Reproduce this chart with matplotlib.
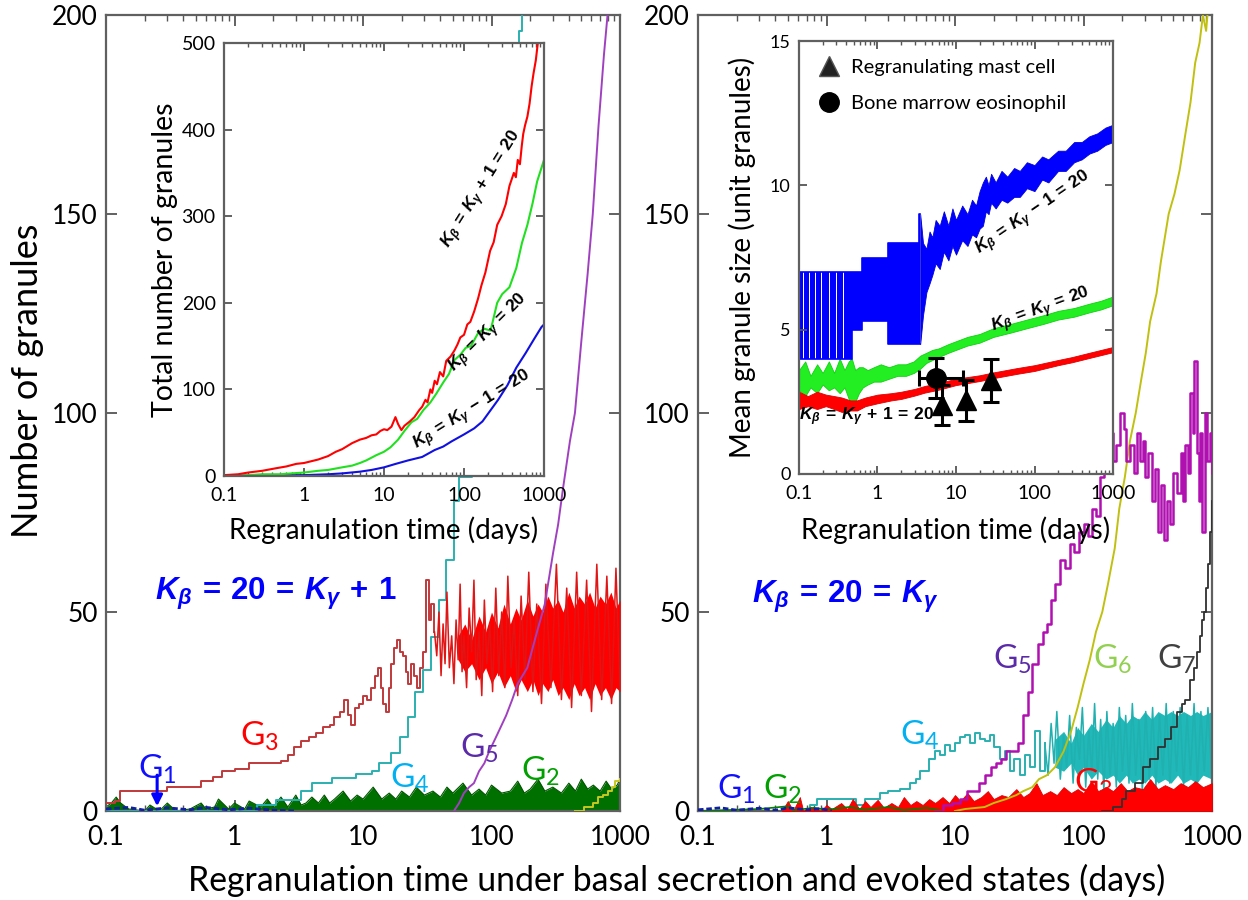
import numpy as np
import matplotlib
matplotlib.use('Agg')
import matplotlib.pyplot as plt
from matplotlib.lines import Line2D

plt.rcParams['font.family'] = ['Lato', 'DejaVu Sans']
plt.rcParams['mathtext.fontset'] = 'custom'
plt.rcParams['mathtext.it'] = 'Liberation Sans:italic:bold'
plt.rcParams['mathtext.bf'] = 'Liberation Sans:bold'
plt.rcParams['mathtext.rm'] = 'Liberation Sans:bold'
plt.rcParams['mathtext.sf'] = 'Liberation Sans:bold'

# ------------------------------------------------------------------ data
x_ticks = [0.1, 1, 10, 100, 1000]
x_ticklabels = ['0.1', '1', '10', '100', '1000']
main_yticks = [0, 50, 100, 150, 200]
insetL_yticks = [0, 100, 200, 300, 400, 500]
insetR_yticks = [0, 5, 10, 15]

# ---- left main panel  (K_beta = 20 = K_gamma + 1), (days, granules)
g1L = [(0.1, 0.5), (0.15, 0.9), (0.2, 0.2), (0.3, 0.8), (0.45, 0.3), (0.6, 0.9),
       (0.9, 0.3), (1.3, 0.7), (2, 0.2), (3, 0)]
g2L = [(0.1, 1), (0.11, 2), (0.12, 3.5), (0.13, 2), (0.15, 0.5), (0.2, 0), (0.22, 1.5),
       (0.26, 0), (0.3, 2), (0.35, 0), (0.45, 0.5), (0.55, 2), (0.6, 0.5), (0.7, 1),
       (0.75, 3), (0.9, 0.5), (1.0, 2), (1.2, 0.5), (1.3, 2.5), (1.6, 1), (1.8, 3),
       (2.0, 1), (2.3, 3.5), (2.6, 1), (3.0, 4), (3.3, 1.5), (3.6, 2), (4.0, 3.5),
       (4.5, 2), (5.0, 4), (5.5, 2), (6.0, 3), (7, 5), (8, 2.5), (9, 4), (10, 3),
       (12, 6), (14, 3), (16, 4.5), (18, 3), (20, 5), (23, 3.5), (26, 6), (30, 4),
       (35, 5), (40, 3.5), (45, 6), (50, 4.5), (60, 7), (70, 4), (80, 5.5), (90, 4),
       (100, 6.5), (120, 4.5), (140, 5), (160, 7.5), (180, 4.5), (200, 5.5), (230, 8),
       (260, 5), (300, 6), (350, 4.5), (400, 7), (450, 5), (500, 8), (560, 5.5),
       (620, 6.5), (700, 5), (780, 7.5), (860, 5.5), (950, 6.5), (1000, 8)]
g3L_steps = [(0.1, 2), (0.118, 2.5), (0.128, 5), (0.24, 5), (0.3, 6), (0.45, 6),
             (0.55, 7.5), (0.68, 8.5), (0.8, 10), (1.0, 10.5), (1.3, 12), (1.9, 12),
             (2.3, 12.5), (2.6, 14), (2.9, 16), (3.3, 17.5), (3.8, 18.5), (4.3, 19.5),
             (4.9, 21), (5.5, 21.5), (6.0, 23.5), (6.6, 25), (7.1, 28), (7.6, 24),
             (8.1, 21.5), (8.6, 26), (9.3, 27), (10, 29), (10.8, 28), (11.6, 31),
             (12.4, 34), (13.2, 36), (13.8, 31), (14.4, 27), (15.0, 25), (15.8, 31),
             (16.6, 37), (17.5, 41), (18.5, 43), (19.5, 40), (20.5, 39), (21.5, 35),
             (22.5, 32), (23.5, 37), (25, 34), (26.5, 31), (28, 36), (29.5, 40),
             (31, 58), (32.5, 48), (34, 52), (36, 45)]
g3L_zigzag = [(36, 45), (37.5, 39), (39, 50), (40.5, 34), (42, 47), (43.5, 37), (45, 55),
              (47, 36), (49, 44), (51, 32), (53, 48), (55, 38), (57, 57), (59, 35),
              (61, 44), (64, 31), (67, 51), (70, 40), (73, 58), (76, 33), (80, 45),
              (84, 29), (88, 53), (92, 37), (97, 47), (102, 30), (108, 56), (114, 34),
              (120, 50), (127, 31), (134, 59), (142, 36), (150, 48), (160, 29),
              (170, 54), (182, 33), (195, 60), (210, 30), (225, 52), (245, 27),
              (265, 57), (290, 31), (320, 62), (350, 28), (385, 56), (420, 26),
              (460, 60), (500, 29), (550, 58), (600, 25), (660, 62), (720, 28),
              (790, 59), (860, 27), (930, 61), (1000, 30)]
# dense band: (days, lower, upper)
g3L_band = [(55, 38, 44), (62, 35, 47), (70, 37, 43), (80, 33, 49), (90, 36, 45),
            (100, 32, 50), (112, 35, 46), (125, 31, 52), (140, 34, 47), (155, 30, 51),
            (170, 33, 48), (190, 30, 53), (210, 33, 49), (230, 29, 52), (250, 32, 50),
            (275, 30, 54), (300, 33, 51), (330, 29, 53), (360, 31, 50), (400, 28, 55),
            (440, 32, 51), (480, 29, 54), (530, 31, 52), (580, 28, 55), (640, 32, 51),
            (700, 29, 54), (770, 31, 52), (850, 28, 55), (930, 31, 51), (1000, 30, 53)]
g4L = [(0.1, 0), (1.4, 0), (1.5, 1.5), (2.1, 2.8), (3.3, 4.9), (4.0, 7), (5.7, 8.2),
       (8.8, 9.4), (11.7, 10), (13.4, 12), (16.5, 14.5), (19.4, 18.7), (22.3, 23.7),
       (25.4, 30), (29.5, 35.5), (33.6, 43.7), (39, 53), (44.5, 63), (51.5, 78),
       (55.5, 84), (70, 110), (100, 140), (130, 170), (145, 180), (155, 188),
       (165, 196), (172, 202)]
g5L = [(51, 0), (56, 2), (61, 4.5), (67, 6), (73, 7), (80, 10), (88, 12), (96, 15),
       (110, 19), (130, 24), (145, 28), (160, 32), (190, 36), (226, 45), (260, 52),
       (302, 65), (330, 72), (360, 81), (408, 93), (446, 100), (500, 118), (560, 135),
       (614, 150), (680, 172), (750, 190), (800, 200), (850, 212)]
g6L = [(450, 0), (520, 1), (560, 1), (620, 2), (680, 3.5), (740, 4), (800, 5),
       (860, 6), (920, 7.5), (1000, 8)]

# ---- right main panel  (K_beta = 20 = K_gamma)
g1R = [(0.1, 0.3), (0.15, 0.8), (0.2, 0.2), (0.3, 0.7), (0.4, 0.2), (0.5, 0.8),
       (0.7, 0.3), (0.9, 0.6), (1.1, 0)]
g2R = [(0.1, 0), (0.3, 0.5), (0.5, 1.2), (0.55, 0.2), (0.8, 0.8), (1.0, 0.3), (1.5, 1),
       (2, 0.3), (3, 1.0), (4, 0.2), (6, 0.8), (8, 0)]
g3R = [(0.45, 0), (0.5, 2.5), (0.55, 0), (0.62, 3.5), (0.66, 0), (0.75, 1), (0.9, 0),
       (1.0, 1.5), (1.1, 0.5), (1.3, 2), (1.45, 0.5), (1.6, 3), (1.8, 0.5), (2.0, 2.5),
       (2.2, 1), (2.5, 2.8), (2.8, 0.8), (3.2, 2), (3.6, 1), (4.0, 3.5), (4.5, 1.5),
       (5.0, 2.5), (5.6, 1.5), (6.3, 3), (7, 2), (8, 3.5), (9, 2), (10, 4), (11, 2.5),
       (12.5, 4.5), (14, 2.5), (16, 3.5), (18, 5), (20, 3), (23, 4), (26, 3.5), (30, 5.5),
       (34, 3.5), (38, 4.5), (43, 7), (48, 4), (55, 5), (62, 4), (70, 6), (80, 4.5),
       (90, 5.5), (100, 4.5), (115, 7.5), (130, 5), (150, 6), (170, 5), (195, 7),
       (220, 5), (250, 6), (290, 5.5), (330, 8), (380, 5.5), (430, 6.5), (500, 5.5),
       (570, 7), (650, 6), (740, 7.5), (850, 6), (1000, 7)]
g4R_steps = [(0.7, 0), (0.75, 1.5), (0.85, 3), (1.6, 3), (1.7, 1.5), (2.0, 3), (2.6, 4.5),
             (3.0, 5), (3.7, 5.5), (4.5, 7), (5.0, 8), (5.3, 10), (6.3, 13), (7.0, 15),
             (7.6, 14), (8.3, 16.5), (9.1, 15), (10, 17), (10.9, 18.5), (11.9, 19),
             (13, 17), (14.3, 19.5), (15.6, 18), (17.1, 17.5), (18.7, 19), (20, 16),
             (22.4, 13), (24.5, 15), (26.8, 10), (29, 13), (32, 9), (35, 14), (38, 11),
             (42, 20), (46, 10), (50, 17)]
g4R_zigzag = [(50, 17), (53, 9), (56, 22), (59, 12), (62, 25), (66, 8), (70, 19), (74, 11),
              (78, 24), (83, 7), (88, 21), (93, 13), (98, 26), (104, 6), (110, 20),
              (116, 10), (122, 27), (129, 8), (136, 23), (144, 5), (152, 25), (161, 9),
              (170, 22), (180, 6), (190, 26), (201, 10), (213, 24), (226, 7), (240, 27),
              (255, 9), (270, 23), (287, 5), (305, 25), (325, 8), (345, 26), (366, 6),
              (390, 24), (415, 9), (440, 27), (470, 7), (500, 25), (530, 10), (565, 26),
              (600, 6), (640, 24), (680, 9), (725, 27), (770, 7), (820, 25), (870, 10),
              (930, 26), (1000, 8)]
g4R_band = [(60, 11, 18), (70, 10, 20), (80, 12, 17), (90, 9, 21), (100, 11, 19),
            (115, 8, 22), (130, 10, 20), (150, 8, 23), (170, 9, 21), (190, 7, 24),
            (215, 9, 22), (240, 7, 24), (270, 8, 23), (300, 7, 25), (340, 9, 23),
            (380, 7, 25), (430, 8, 24), (480, 7, 25), (540, 9, 24), (600, 7, 25),
            (680, 8, 24), (760, 7, 25), (850, 9, 24), (1000, 8, 25)]
g5R = [(7, 0), (8, 1.5), (9.5, 2), (11, 3), (12.5, 5), (14, 5), (15.5, 7), (17, 9),
       (19, 11), (21, 12), (23, 13), (25, 15), (28, 15), (31, 17), (34, 24), (37, 30),
       (40, 37), (44, 42), (48, 45), (52, 47), (56, 53), (60, 57), (66, 63), (72, 61),
       (78, 67), (85, 65), (92, 70), (100, 72), (108, 69), (116, 76), (125, 74),
       (134, 84), (145, 90), (155, 95), (170, 88), (180, 92), (193, 100), (205, 96),
       (215, 88), (230, 92), (245, 85), (260, 95), (275, 88), (290, 93), (300, 84),
       (320, 90), (340, 78), (360, 86), (380, 70), (400, 82), (425, 68), (450, 78),
       (470, 72), (500, 85), (535, 80), (570, 90), (600, 78), (620, 92), (650, 85),
       (680, 105), (710, 95), (730, 113), (760, 90), (790, 78), (810, 95), (840, 70),
       (880, 100), (920, 88), (960, 95), (1000, 85)]
g6R = [(10, 0), (12, 0.5), (17, 1), (20, 2), (25, 3), (30, 4), (34, 5), (40, 6),
       (45, 8), (52, 9), (60, 11), (70, 15), (80, 20), (90, 26), (100, 32), (112, 38),
       (125, 45), (140, 50), (155, 57), (175, 66), (190, 76), (210, 84), (230, 93),
       (255, 100), (280, 108), (305, 115), (330, 123), (370, 130), (400, 138),
       (460, 150), (510, 155), (560, 161), (620, 170), (680, 178), (740, 188),
       (800, 193), (850, 200), (900, 196), (950, 205), (1000, 212)]
g7R = [(140, 0), (170, 1), (200, 3), (215, 5), (250, 7), (290, 11), (330, 13), (380, 16),
       (430, 18), (480, 21), (530, 25), (580, 27), (620, 28), (680, 33), (720, 36),
       (760, 40), (800, 44), (840, 48), (870, 50), (900, 56), (930, 62), (960, 70),
       (1000, 78)]

# ---- left inset: total number of granules
totA = [(0.1, 1), (0.15, 2), (0.2, 4), (0.3, 6), (0.45, 9), (0.6, 11), (0.8, 14), (1.0, 15),
        (1.5, 19), (2, 23), (2.5, 28), (3, 31), (4, 38), (5, 42), (6, 44), (7, 47), (8, 48),
        (9, 52), (10, 54), (11, 53), (12.4, 57), (13.9, 68), (15, 60), (16.5, 53), (18, 58),
        (21, 63), (24, 68), (27.5, 76), (30, 80), (33, 88), (35, 85), (38, 100), (40, 96),
        (43, 110), (46, 106), (50, 120), (55, 115), (60, 133), (68, 138), (76, 145),
        (83, 152), (90, 160), (100, 163), (110, 175), (120, 178), (134, 190), (150, 205),
        (165, 220), (185, 235), (212, 260), (235, 270), (260, 290), (295, 300),
        (333, 314), (370, 335), (420, 350), (445, 345), (470, 365), (500, 360),
        (527, 381), (550, 395), (580, 405), (620, 415), (660, 430), (700, 450),
        (740, 465), (790, 480), (830, 497), (1000, 560)]
totB = [(0.1, 0), (0.2, 1), (0.3, 2), (0.5, 2), (0.7, 3), (1, 4), (1.5, 6), (2, 7), (3, 10),
        (4, 12), (5, 15), (6, 18), (8, 24), (10, 28), (12, 33), (15, 42), (18, 52),
        (22, 62), (26, 66), (31, 76), (38, 85), (45, 95), (55, 108), (65, 118), (76, 134),
        (90, 140), (105, 148), (122, 150), (150, 165), (180, 170), (215, 168), (260, 200),
        (300, 210), (370, 218), (450, 240), (530, 269), (620, 290), (720, 315),
        (820, 340), (1000, 365)]
totC = [(0.1, 0), (0.5, 1), (1, 1), (2, 2), (3, 3), (5, 5), (7, 7), (10, 10), (14, 14),
        (20, 18), (30, 22), (43, 30), (55, 34), (70, 40), (100, 48), (134, 55), (170, 63),
        (200, 72), (267, 88), (350, 105), (450, 125), (590, 142), (750, 158), (930, 172),
        (1000, 175)]

# ---- right inset: mean granule size
# early blue blocks: (days, low edge, high edge, filled)
meanA_blocks = [(0.100, 4.0, 7.0, 1), (0.112, 4.0, 7.0, 0), (0.117, 4.0, 7.0, 1),
                (0.133, 4.0, 7.0, 0), (0.139, 4.0, 7.0, 1), (0.158, 4.0, 7.0, 0),
                (0.165, 4.0, 7.0, 1), (0.192, 4.0, 7.0, 0), (0.199, 4.0, 7.0, 1),
                (0.240, 4.0, 7.0, 0), (0.248, 4.0, 7.0, 1), (0.300, 4.0, 7.0, 0),
                (0.309, 4.0, 7.0, 1), (0.360, 4.0, 7.0, 0), (0.370, 4.0, 7.0, 1),
                (0.470, 5.0, 7.0, 1), (0.630, 5.3, 7.5, 1), (1.36, 4.5, 8.0, 1),
                (3.40, 4.5, 9.0, 1), (3.50, 4.5, 9.0, 1)]
meanA_band = [(3.5, 4.5, 9.0), (3.8, 5.5, 8.0), (4.2, 6.3, 7.8), (4.6, 6.6, 8.4),
              (5.0, 6.9, 8.2), (5.5, 7.3, 8.8), (6.2, 7.1, 8.6), (7, 7.7, 9.1),
              (8, 7.4, 8.6), (9, 7.9, 9.2), (10, 7.6, 8.8), (12, 8.1, 9.3), (14, 7.9, 9.0),
              (16, 8.3, 9.5), (18, 8.2, 9.3), (20, 8.5, 9.8), (22, 8.6, 10.1),
              (24, 9.1, 10.3), (26, 9.0, 10.0), (28, 9.4, 10.4), (32, 9.2, 10.1),
              (38, 9.5, 10.5), (45, 9.4, 10.3), (55, 9.6, 10.6), (65, 9.6, 10.5),
              (80, 9.9, 10.8), (100, 9.8, 10.7), (125, 10.2, 11.0), (150, 10.1, 10.9),
              (200, 10.5, 11.2), (250, 10.5, 11.2), (320, 10.8, 11.5), (400, 10.9, 11.5),
              (500, 11.1, 11.7), (630, 11.2, 11.8), (800, 11.4, 12.0), (1000, 11.5, 12.1)]
meanB_band = [(0.1, 2.9, 3.6), (0.12, 2.7, 3.9), (0.14, 3.0, 3.4), (0.17, 2.8, 3.8),
              (0.2, 3.1, 3.5), (0.24, 2.9, 3.9), (0.28, 3.0, 3.5), (0.33, 2.8, 4.0),
              (0.38, 3.0, 3.6), (0.43, 2.6, 3.9), (0.47, 2.4, 4.0), (0.52, 2.5, 3.6),
              (0.58, 2.8, 3.7), (0.65, 3.0, 3.7), (0.75, 3.1, 3.6), (0.9, 3.2, 3.7),
              (1.1, 3.2, 3.8), (1.4, 3.3, 3.7), (1.8, 3.4, 3.8), (2.3, 3.4, 3.8),
              (2.9, 3.5, 3.9), (3.5, 3.65, 4.1), (4.2, 3.85, 4.2), (5, 3.95, 4.3),
              (6, 4.05, 4.35), (8, 4.2, 4.5), (10, 4.3, 4.6), (14, 4.45, 4.75),
              (20, 4.55, 4.85), (30, 4.75, 5.05), (50, 4.9, 5.2), (80, 5.05, 5.35),
              (130, 5.2, 5.5), (200, 5.35, 5.65), (320, 5.45, 5.75), (500, 5.6, 5.9),
              (700, 5.7, 6.0), (1000, 5.85, 6.15)]
meanC_band = [(0.1, 2.25, 2.85), (0.13, 2.35, 2.7), (0.17, 2.25, 2.85), (0.22, 2.35, 2.75),
              (0.28, 2.25, 2.7), (0.35, 2.15, 2.65), (0.45, 2.2, 2.55), (0.55, 2.2, 2.55),
              (0.7, 2.35, 2.65), (1, 2.45, 2.75), (1.5, 2.55, 2.8), (2, 2.6, 2.85),
              (3, 2.72, 2.95), (4, 2.82, 3.05), (6, 2.92, 3.15), (10, 3.08, 3.3),
              (20, 3.22, 3.42), (30, 3.32, 3.52), (60, 3.47, 3.67), (100, 3.57, 3.77),
              (200, 3.77, 3.95), (300, 3.87, 4.05), (500, 4.02, 4.2), (1000, 4.22, 4.4)]
# measurements: (days, size, yerr)
mast_cell = [(6.6, 2.4, 0.7), (13.5, 2.55, 0.72), (28, 3.25, 0.75)]
eosinophil = [(5.6, 3.33, 0.7, 2.2, 6.6)]   # days, size, yerr, xerr-, xerr+

# ------------------------------------------------------------------ helpers
def unz(pairs):
    cols = list(zip(*pairs))
    return [np.array(c, dtype=float) for c in cols]

FW, FH = 1248, 900
def box(x0, y0, x1, y1):
    return [x0 / FW, 1 - y1 / FH, (x1 - x0) / FW, (y1 - y0) / FH]

def style(ax, tick_fs, maj, mnr, xpad, ypad):
    ax.set_xscale('log')
    ax.set_xlim(0.1, 1000)
    ax.set_xticks(x_ticks)
    ax.set_xticklabels(x_ticklabels)
    ax.tick_params(which='both', direction='in', top=True, right=True,
                   color='#555555', labelcolor='black')
    ax.tick_params(which='major', length=maj, width=1.3, labelsize=tick_fs)
    ax.tick_params(which='minor', length=mnr, width=1.0)
    ax.tick_params(axis='x', which='major', pad=xpad)
    ax.tick_params(axis='y', which='major', pad=ypad)
    for s in ax.spines.values():
        s.set_color('#606060')
        s.set_linewidth(1.6)

def glabel(ax, x, y, n, color, fs=24):
    ax.text(x, y, r'$\mathregular{G_%s}$' % n, color=color, fontsize=fs,
            ha='left', va='center', zorder=10)

fig = plt.figure(figsize=(FW / 100, FH / 100), dpi=100)

# ------------------------------------------------------------------ left main
axL = fig.add_axes(box(106, 15, 620, 811))
style(axL, 19, 8, 4, 10, 6)
axL.set_ylim(0, 200)
axL.set_yticks(main_yticks)

t, v = unz(g2L)
axL.fill_between(t, 0, v, color='#007000', lw=0, zorder=2)
axL.plot(t, v, color='#005500', lw=0.8, zorder=2)
t, v = unz(g4L)
axL.step(t, v, where='post', color='#2ab0b0', lw=1.4, zorder=3)
t, v = unz(g3L_steps)
axL.step(t, v, where='post', color='#c0393b', lw=1.4, zorder=3)
t, lo, hi = unz(g3L_band)
axL.fill_between(t, lo, hi, color='#ff0000', lw=0, zorder=3)
t, v = unz(g3L_zigzag)
axL.plot(t, v, color='#e01515', lw=1.1, zorder=3)
t, v = unz(g5L)
axL.plot(t, v, color='#a040c0', lw=1.4, zorder=3)
t, v = unz(g6L)
axL.step(t, v, where='post', color='#c8c820', lw=1.4, zorder=4)
t, v = unz(g1L)
axL.plot(t, v, color='#1020a0', lw=2, ls=(0, (2, 1)), zorder=4)

axL.text(0.24, 54.5, r'$K_\beta\mathbf{\,=\,20\,=\,}K_\gamma\mathbf{\,+\,1}$',
         color='#0000ff', fontsize=22.5, ha='left', va='center')
glabel(axL, 0.177, 10.5, 1, '#1010ff')
glabel(axL, 1.1, 18.8, 3, '#ff0000')
glabel(axL, 16.2, 8.3, 4, '#00b0f0')
glabel(axL, 57, 15.8, 5, '#5a2aa8')
glabel(axL, 171, 10, 2, '#00a000')
axL.annotate('', xy=(0.25, 1.2), xytext=(0.25, 9.0),
             arrowprops=dict(arrowstyle='-|>', color='#0000ff', lw=2.2,
                             mutation_scale=16, shrinkA=0, shrinkB=0), zorder=10)
axL.set_ylabel('Number of granules', fontsize=26, va='center')
axL.yaxis.set_label_coords(-0.152, 0.54)

# ------------------------------------------------------------------ right main
axR = fig.add_axes(box(698, 15, 1212, 811))
style(axR, 19, 8, 4, 10, 6)
axR.set_ylim(0, 200)
axR.set_yticks(main_yticks)

t, lo, hi = unz(g4R_band)
axR.fill_between(t, lo, hi, color='#20b8b8', lw=0, zorder=2)
t, v = unz(g4R_zigzag)
axR.plot(t, v, color='#20b0b0', lw=1.1, zorder=2)
t, v = unz(g4R_steps)
axR.step(t, v, where='post', color='#2ab0b0', lw=1.4, zorder=2)
t, v = unz(g3R)
axR.fill_between(t, 0, v, color='#ff0000', lw=0.6, ec='#e00000', zorder=3)
t, v = unz(g2R)
axR.plot(t, v, color='#008000', lw=1.2, zorder=3)
t, v = unz(g1R)
axR.plot(t, v, color='#1020a0', lw=2, ls=(0, (2, 1)), zorder=3)
t, v = unz(g6R)
axR.plot(t, v, color='#c0c010', lw=1.4, zorder=4)
t, v = unz(g7R)
axR.step(t, v, where='post', color='#303030', lw=1.3, zorder=4)
t, v = unz(g5R)
axR.step(t, v, where='post', color='#b010b0', lw=1.8, zorder=4)

axR.text(0.263, 53.8, r'$K_\beta\mathbf{\,=\,20\,=\,}K_\gamma$',
         color='#0000ff', fontsize=22.5, ha='left', va='center')
glabel(axR, 0.14, 5.3, 1, '#1010ff')
glabel(axR, 0.32, 5.3, 2, '#00a000')
glabel(axR, 3.7, 19, 4, '#00b0f0')
glabel(axR, 19.7, 38, 5, '#5a2aa8')
glabel(axR, 118, 38, 6, '#92d050')
glabel(axR, 370, 38, 7, '#404040')
glabel(axR, 85, 7, 3, '#ff0000')

fig.supxlabel('Regranulation time under basal secretion and evoked states (days)',
              x=0.542, y=0.022, va='center', fontsize=24.3)

# ------------------------------------------------------------------ left inset
axIL = fig.add_axes(box(224, 43, 544, 476))
style(axIL, 14, 6, 3, 8, 6)
axIL.set_ylim(0, 500)
axIL.set_yticks(insetL_yticks)
for data, col in ((totC, '#1010e0'), (totB, '#20e020'), (totA, '#ff0000')):
    t, v = unz(data)
    axIL.plot(t, v, color=col, lw=1.5)
kw = dict(fontsize=12.5, ha='center', va='center', color='black')
axIL.text(168, 330, r'$K_\beta\mathbf{\,=\,}K_\gamma\mathbf{\,+\,1\,=\,20}$', rotation=58, **kw)
axIL.text(205, 165, r'$K_\beta\mathbf{\,=\,}K_\gamma\mathbf{\,=\,20}$', rotation=45, **kw)
axIL.text(126, 76, r'$K_\beta\mathbf{\,=\,}K_\gamma\mathbf{\,-\,1\,=\,20}$', rotation=32, **kw)
axIL.set_ylabel('Total number of granules', fontsize=20.5, va='center')
axIL.yaxis.set_label_coords(-0.185, 0.5)
axIL.set_xlabel('Regranulation time (days)', fontsize=20, va='center')
axIL.xaxis.set_label_coords(0.5, -0.125)

# ------------------------------------------------------------------ right inset
axIR = fig.add_axes(box(799, 41, 1113, 474))
style(axIR, 14, 6, 3, 8, 6)
axIR.tick_params(axis='y', labelsize=13)
axIR.set_ylim(0, 15)
axIR.set_yticks(insetR_yticks)

t, lo, hi, on = unz(meanA_blocks)
axIR.fill_between(t, lo, np.where(on > 0, hi, lo), step='post', color='#0000ff', lw=0)
axIR.step(t, hi, where='post', color='#0000ff', lw=1.2)
axIR.step(t, lo, where='post', color='#0000ff', lw=1.2)
t, lo, hi = unz(meanA_band)
axIR.fill_between(t, lo, hi, color='#0000ff', lw=0.6, ec='#0000dd')
t, lo, hi = unz(meanB_band)
axIR.fill_between(t, lo, hi, color='#22ee22', lw=0.6, ec='#10d010')
t, lo, hi = unz(meanC_band)
axIR.fill_between(t, lo, hi, color='#ff0000', lw=0.6, ec='#e00000')

t, v, e = unz(mast_cell)
axIR.errorbar(t, v, yerr=e, fmt='^', color='black', ms=14, capsize=6, elinewidth=2.2,
              capthick=2.2, zorder=6)
t, v, e, xm, xp = unz(eosinophil)
axIR.errorbar(t, v, yerr=e, xerr=[xm, xp], fmt='o', color='black', ms=14, capsize=6,
              elinewidth=2.2, capthick=2.2, zorder=6)

kw = dict(fontsize=12.5, ha='center', va='center', color='black')
axIR.text(95, 9.04, r'$K_\beta\mathbf{\,=\,}K_\gamma\mathbf{\,-\,1\,=\,20}$', rotation=34.5, **kw)
axIR.text(121, 5.65, r'$K_\beta\mathbf{\,=\,}K_\gamma\mathbf{\,=\,20}$', rotation=20, **kw)
axIR.text(0.73, 1.97, r'$K_\beta\mathbf{\,=\,}K_\gamma\mathbf{\,+\,1\,=\,20}$', rotation=0,
          zorder=7, **kw)

handles = [Line2D([], [], marker='^', ls='none', color='#222222', mec='#555555', ms=14),
           Line2D([], [], marker='o', ls='none', color='black', ms=14)]
axIR.legend(handles, ['Regranulating mast cell', 'Bone marrow eosinophil'],
            loc='upper left', bbox_to_anchor=(0.0, 1.0), frameon=False, fontsize=14.5,
            handletextpad=0.5, labelspacing=0.95, handlelength=1.2, borderaxespad=0.5)
axIR.set_ylabel('Mean granule size (unit granules)', fontsize=20, va='center')
axIR.yaxis.set_label_coords(-0.18, 0.5)
axIR.set_xlabel('Regranulation time (days)', fontsize=20, va='center')
axIR.xaxis.set_label_coords(0.5, -0.13)

fig.savefig('out.png', dpi=100)
